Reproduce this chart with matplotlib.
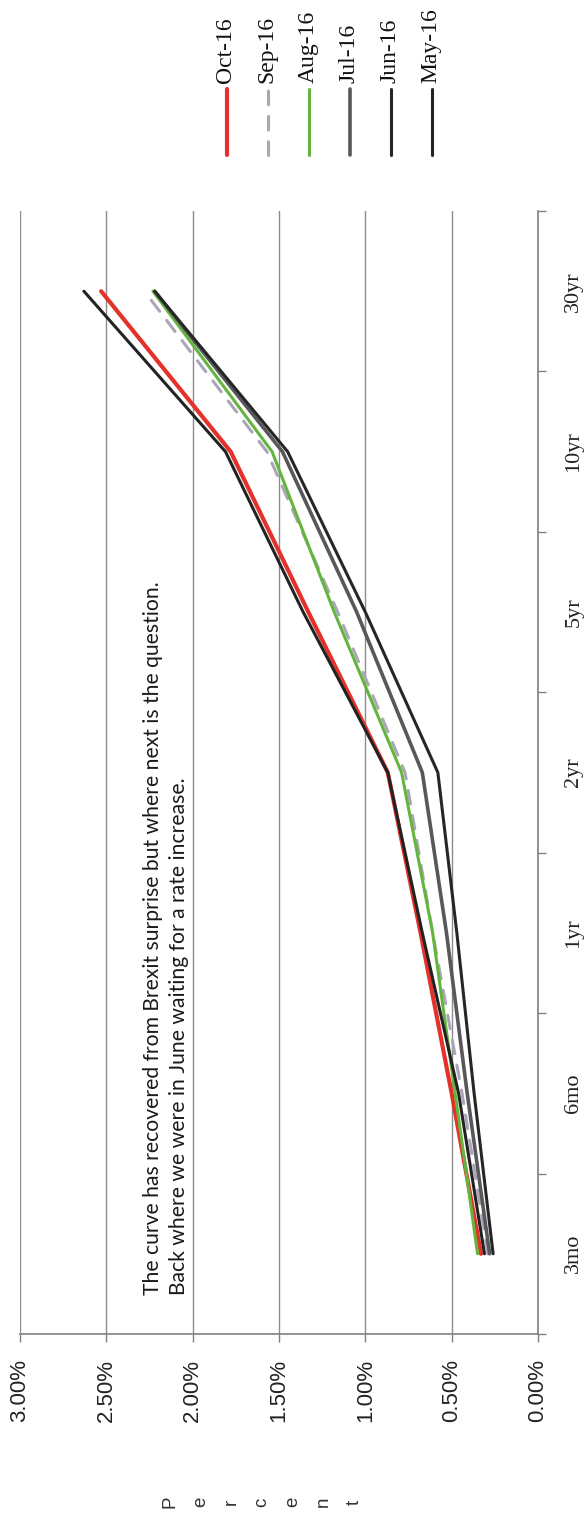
import matplotlib
matplotlib.use("Agg")
import matplotlib.pyplot as plt
from matplotlib.lines import Line2D
from matplotlib.ticker import FixedLocator

# ---------------- data ----------------
maturities = ["3mo", "6mo", "1yr", "2yr", "5yr", "10yr", "30yr"]
series_names = ["Oct-16", "Sep-16", "Aug-16", "Jul-16", "Jun-16", "May-16"]
oct16 = [0.33, 0.50, 0.68, 0.87, 1.33, 1.78, 2.53]
sep16 = [0.29, 0.44, 0.61, 0.77, 1.16, 1.57, 2.28]
aug16 = [0.35, 0.48, 0.61, 0.79, 1.18, 1.54, 2.23]
jul16 = [0.28, 0.41, 0.53, 0.67, 1.05, 1.48, 2.22]
jun16 = [0.26, 0.37, 0.47, 0.58, 1.00, 1.45, 2.22]
may16 = [0.31, 0.46, 0.67, 0.87, 1.36, 1.81, 2.63]
pct_ticks = [0.0, 0.5, 1.0, 1.5, 2.0, 2.5, 3.0]
pct_labels = ["0.00%", "0.50%", "1.00%", "1.50%", "2.00%", "2.50%", "3.00%"]
note_lines = ["The curve has recovered from Brexit surprise but where next is the question.",
              "Back where we were in June waiting for a rate increase."]
axis_title = "Percent"

values = [oct16, sep16, aug16, jul16, jun16, may16]
styles = [
    dict(color="#e4312b", lw=3.0, ls="-"),
    dict(color="#aaa6b6", lw=2.2, ls=(0, (4.5, 3.8))),
    dict(color="#63b53d", lw=2.2, ls="-"),
    dict(color="#58575c", lw=2.6, ls="-"),
    dict(color="#262626", lw=2.2, ls="-"),
    dict(color="#222222", lw=2.2, ls="-"),
]

W, H = 586, 1513
fig = plt.figure(figsize=(W / 100, H / 100), dpi=100)
fig.patch.set_facecolor("white")

def fx(px):
    return px / W

def fy(py):
    return 1 - py / H

left, right, top, bottom = 20, 538, 211, 1334
ax = fig.add_axes([fx(left), fy(bottom), (right - left) / W, (bottom - top) / H])

ypos = list(range(len(maturities)))
for i, (name, vals, st) in enumerate(zip(series_names, values, styles)):
    ax.plot(vals, ypos, color=st["color"], lw=st["lw"], linestyle=st["ls"],
            solid_capstyle="round", dash_capstyle="round", solid_joinstyle="miter",
            zorder=3 + i, label=name)

ax.set_xlim(3.0, 0.0)
ax.set_ylim(-0.5, len(maturities) - 0.5)

# percent axis (bottom)
ax.set_xticks(pct_ticks)
ax.set_xticklabels(pct_labels, rotation=90, fontsize=16, family="Liberation Sans",
                   color="#222222")
ax.tick_params(axis="x", direction="out", length=6, width=1, color="#808080", pad=12)
ax.grid(axis="x", color="#8c8c8c", lw=1.0, zorder=0)

# maturity axis (right)
ax.yaxis.tick_right()
ax.set_yticks(ypos)
ax.set_yticklabels(maturities, rotation=90, fontsize=16, family="Liberation Serif",
                   color="#222222", va="center")
ax.yaxis.set_minor_locator(FixedLocator([p - 0.5 for p in range(len(maturities) + 1)]))
ax.tick_params(axis="y", which="major", length=0, pad=19, left=False, right=True)
ax.tick_params(axis="y", which="minor", length=6, width=1, color="#808080",
               direction="out", left=False, right=True)

for s in ["top", "left"]:
    ax.spines[s].set_visible(False)
for s in ["bottom", "right"]:
    ax.spines[s].set_color("#808080")
    ax.spines[s].set_linewidth(1.2)

# axis title, letters stacked then rotated
ax.set_xlabel("\n".join(axis_title), rotation=90, fontsize=13.5, family="Liberation Sans",
              color="#333333", linespacing=2.05)
ax.xaxis.set_label_coords((262 - left) / (right - left), -(1502 - bottom) / (bottom - top))
ax.xaxis.label.set_va("center")
ax.xaxis.label.set_ha("center")

# annotation
note = fig.text(fx(166), fy(1295), "\n".join(note_lines), rotation=90, ha="center",
                va="bottom", multialignment="left", fontsize=15, family="Lato",
                color="#1a1a1a", linespacing=1.35)
fig.canvas.draw()
r = fig.canvas.get_renderer()
bb = note.get_window_extent(r)
note.set_fontsize(15 * 713 / bb.height)

# legend (drawn manually with rotated labels)
for i, (name, st) in enumerate(zip(series_names, styles)):
    x = 227 + 41 * i
    fig.add_artist(Line2D([fx(x), fx(x)], [fy(155), fy(89)], color=st["color"],
                          lw=st["lw"], linestyle=st["ls"], solid_capstyle="round",
                          dash_capstyle="round"))
    fig.text(fx(x - 1), fy(83), name, rotation=90, ha="center", va="bottom",
             fontsize=17, family="Liberation Serif", color="#111111")

fig.savefig("out.png", dpi=100, facecolor="white")
